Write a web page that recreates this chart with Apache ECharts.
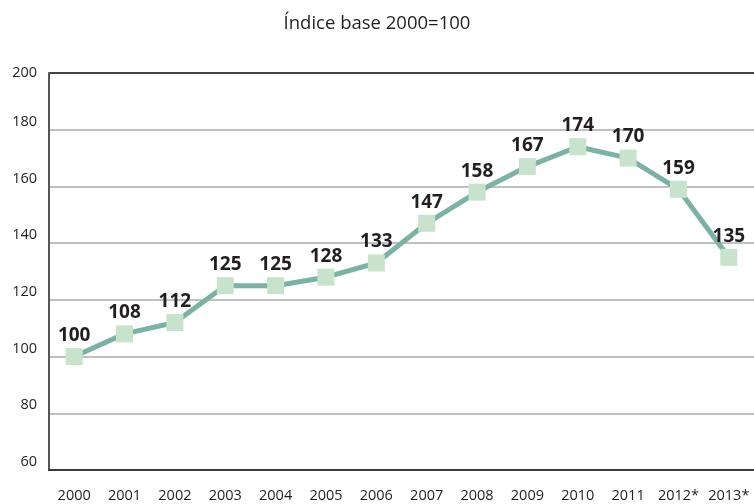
<!DOCTYPE html>
<html>
<head>
<meta charset="utf-8">
<script src="https://cdn.jsdelivr.net/npm/echarts@6/dist/echarts.min.js"></script>
<style>
html, body { margin: 0; padding: 0; background: #fff; }
#container { width: 754px; height: 504px; }
</style>
</head>
<body>
<div id="container"></div>
<script>
var years = ['2000', '2001', '2002', '2003', '2004', '2005', '2006', '2007', '2008', '2009', '2010', '2011', '2012*', '2013*'];
var indexValues = [100, 108, 112, 125, 125, 128, 133, 147, 158, 167, 174, 170, 159, 135];
var yTicks = { min: 60, max: 200, interval: 20 };

var dom = document.getElementById("container");
var myChart = echarts.init(dom);
var option = {
    title: {
        text: 'Índice base 2000=100',
        left: 'center',
        top: 9,
        textStyle: {
            fontFamily: 'Open Sans',
            fontWeight: 'normal',
            fontSize: 18.5,
            color: '#231f20'
        }
    },
    grid: {
        left: 49,
        top: 73,
        width: 707,
        height: 397
    },
    xAxis: {
        type: 'category',
        data: years,
        boundaryGap: true,
        axisLine: { lineStyle: { color: '#3a3a3a', width: 2 } },
        axisTick: { inside: true, length: 9, interval: 0, lineStyle: { color: '#3a3a3a', width: 2 } },
        axisLabel: {
            interval: 0,
            margin: 18,
            fontFamily: 'Open Sans',
            fontSize: 14.5,
            color: '#231f20'
        }
    },
    yAxis: {
        type: 'value',
        min: yTicks.min,
        max: yTicks.max,
        interval: yTicks.interval,
        axisLine: { show: true, lineStyle: { color: '#555', width: 2 } },
        axisTick: { show: false },
        axisLabel: {
            margin: 12,
            fontFamily: 'Open Sans',
            fontSize: 14.5,
            color: '#231f20',
            // labels sit just above their gridline, except the top one
            formatter: function (v) {
                return v === yTicks.max ? '{t|' + v + '}' : '{n|' + v + '}';
            },
            rich: {
                t: { fontFamily: 'Open Sans', fontSize: 14.5, color: '#231f20' },
                n: { fontFamily: 'Open Sans', fontSize: 14.5, color: '#231f20', padding: [0, 0, 16, 0] }
            }
        },
        splitLine: {
            lineStyle: {
                color: ['#c0c0c0', '#c0c0c0', '#c0c0c0', '#c0c0c0', '#c0c0c0', '#c0c0c0', '#c0c0c0', '#444'],
                width: 2
            }
        }
    },
    series: [{
        type: 'line',
        data: indexValues,
        symbol: 'rect',
        symbolSize: 17,
        lineStyle: { color: '#7ab3a3', width: 5 },
        itemStyle: { color: '#c8e3cb', borderWidth: 0 },
        label: {
            show: true,
            position: 'top',
            distance: 3,
            fontFamily: 'Open Sans',
            fontWeight: 'bold',
            fontSize: 19,
            color: '#231f20'
        },
        animation: false
    }]
};
myChart.setOption(option, true);
</script>
</body>
</html>
